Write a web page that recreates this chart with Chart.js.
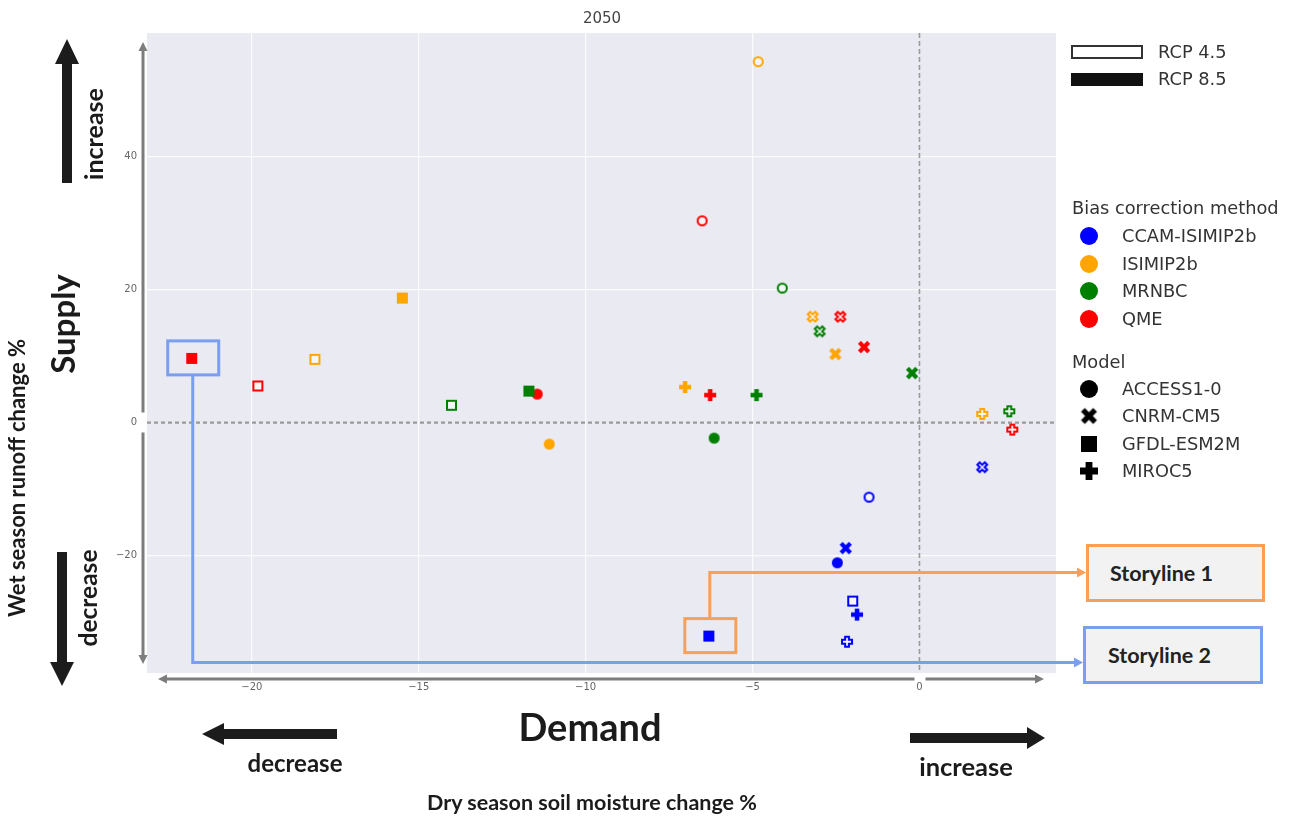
<!DOCTYPE html>
<html>
<head>
<meta charset="utf-8">
<script src="https://cdn.jsdelivr.net/npm/chart.js@4.4.1/dist/chart.umd.min.js"></script>
<style>
  html, body { margin: 0; padding: 0; background: #fff; }
  #wrap { position: relative; width: 1292px; height: 817px; overflow: hidden; }
  #c { position: absolute; left: 0; top: 0; }
  svg.arrows { position: absolute; left: 0; top: 0; pointer-events: none; }
  .t { position: absolute; white-space: nowrap; line-height: 1; }
  .big { font-family: Lato, 'Open Sans', sans-serif; font-weight: 700; color: #1b1b1b; }
  .ctr { transform: translate(-50%, -50%); }
  .rot { transform: translate(-50%, -50%) rotate(-90deg); }
  .title { font-family: 'DejaVu Sans', sans-serif; font-size: 15px; color: #444; }
  .lg { font-family: 'DejaVu Sans', sans-serif; font-size: 17.8px; color: #333; transform: translateY(-50%); }
  .swatch { position: absolute; box-sizing: border-box; }
  .mk { position: absolute; transform: translate(-50%, -50%); }
  .story { position: absolute; box-sizing: border-box; background: #f2f2f2; border: 3px solid;
           font-family: Lato, 'Open Sans', sans-serif; font-weight: 700; font-size: 21.5px; color: #222;
           display: flex; align-items: center; }
</style>
</head>
<body>
<div id="wrap">
  <canvas id="c" width="1292" height="817"></canvas>

  <svg class="arrows" width="1292" height="817">
    <g fill="#1c1c1c">
      <polygon points="67,39 79,64 72,64 72,183 62,183 62,64 55,64"/>
      <polygon points="57,552 67,552 67,662 74,662 62,686 50,662 57,662"/>
      <polygon points="202,734 224,723 224,729 337,729 337,739 224,739 224,745"/>
      <polygon points="910,733 1027,733 1027,727 1045,738 1027,749 1027,743 910,743"/>
    </g>
  </svg>

  <div class="t title ctr" style="left:602px; top:18px;">2050</div>

  <div class="t big rot" style="left:93px; top:134px; font-size:25px;">increase</div>
  <div class="t big rot" style="left:62px; top:324px; font-size:33px;">Supply</div>
  <div class="t big rot" style="left:17px; top:478px; font-size:22px;">Wet season runoff change %</div>
  <div class="t big rot" style="left:88px; top:598px; font-size:24.5px;">decrease</div>

  <div class="t big ctr" style="left:590px; top:726px; font-size:38px;">Demand</div>
  <div class="t big ctr" style="left:295px; top:763px; font-size:24px;">decrease</div>
  <div class="t big ctr" style="left:966px; top:767px; font-size:25.5px;">increase</div>
  <div class="t big ctr" style="left:592px; top:803px; font-size:21.5px;">Dry season soil moisture change %</div>

  <div id="legend"></div>

  <div class="story" style="left:1086px; top:544px; width:179px; height:58px; border-color:#f7a05a; padding-left:21px;">Storyline 1</div>
  <div class="story" style="left:1083px; top:626px; width:180px; height:58px; border-color:#7b9ff0; padding-left:22px;">Storyline 2</div>
</div>

<script>
// ---- data ----------------------------------------------------------------
const methods = ['CCAM-ISIMIP2b', 'ISIMIP2b', 'MRNBC', 'QME'];
const models = ['ACCESS1-0', 'CNRM-CM5', 'GFDL-ESM2M', 'MIROC5'];
const scenarios = ['RCP 4.5', 'RCP 8.5'];

// rows: bias correction method, columns: model
// dry season soil moisture change % (x) and wet season runoff change % (y)
const rcp45Dry = [
  [-1.51, 1.88, -2.00, -2.17],
  [-4.83, -3.20, -18.11, 1.88],
  [-4.11, -2.99, -14.02, 2.69],
  [-6.51, -2.37, -19.82, 2.78]
];
const rcp45Wet = [
  [-11.2, -6.7, -26.8, -32.9],
  [54.2, 15.9, 9.5, 1.3],
  [20.2, 13.7, 2.6, 1.7],
  [30.3, 15.9, 5.5, -1.05]
];
const rcp85Dry = [
  [-2.46, -2.21, -6.31, -1.87],
  [-11.09, -2.52, -15.49, -7.02],
  [-6.15, -0.22, -11.70, -4.88],
  [-11.45, -1.66, -21.80, -6.27]
];
const rcp85Wet = [
  [-21.05, -18.84, -32.06, -28.83],
  [-3.23, 10.29, 18.69, 5.33],
  [-2.33, 7.43, 4.73, 4.13],
  [4.28, 11.34, 9.64, 4.13]
];

const xTicks = [-20, -15, -10, -5, 0];
const yTicks = [-20, 0, 20, 40];

// highlighted runs: [scenario index, method index, model index]
const storylineRuns = [[1, 0, 2], [1, 3, 2]];

// ---- styling ---------------------------------------------------------------
const methodColors = ['#0000ff', '#ffa500', '#008000', '#ff0000'];
const modelShapes = ['circle', 'x', 'square', 'plus'];
const storylineStyles = [
  { color: '#f7a05a', fromTop: true,  lineY: 572.5, tipX: 1086 },
  { color: '#7b9ff0', fromTop: false, lineY: 662.5, tipX: 1083 }
];

function shapePath(g, shape, size) {
  const s = size / 2;
  g.beginPath();
  if (shape === 'circle') {
    g.arc(0, 0, s, 0, Math.PI * 2);
  } else if (shape === 'square') {
    g.rect(-s, -s, 2 * s, 2 * s);
  } else {
    const r = shape === 'x' ? s * 1.32 : s;
    const t = shape === 'x' ? s * 0.42 : s * 0.38;
    const pts = [[-t,-r],[t,-r],[t,-t],[r,-t],[r,t],[t,t],[t,r],[-t,r],[-t,t],[-r,t],[-r,-t],[-t,-t]];
    const a = shape === 'x' ? Math.PI / 4 : 0;
    pts.forEach(([px, py], i) => {
      const qx = px * Math.cos(a) - py * Math.sin(a);
      const qy = px * Math.sin(a) + py * Math.cos(a);
      if (i === 0) g.moveTo(qx, qy); else g.lineTo(qx, qy);
    });
  }
  g.closePath();
}

function markerCanvas(shape, color, filled, size) {
  const n = Math.ceil(size + 8);
  const cv = document.createElement('canvas');
  cv.width = n; cv.height = n;
  const g = cv.getContext('2d');
  g.translate(n / 2, n / 2);
  if (filled) {
    shapePath(g, shape, size);
    g.fillStyle = color;
    g.fill();
  } else {
    shapePath(g, shape, size - 2);
    g.fillStyle = 'rgba(255,255,255,0.55)';
    g.fill();
    g.strokeStyle = color;
    g.lineWidth = 2;
    g.stroke();
  }
  return cv;
}

const markerSize = { circle: 11, x: 10, square: 11, plus: 12 };

// ---- datasets ---------------------------------------------------------------
const series = [[rcp45Dry, rcp45Wet], [rcp85Dry, rcp85Wet]];
const datasets = [];
scenarios.forEach((sc, si) => {
  const [dry, wet] = series[si];
  methods.forEach((m, mi) => {
    datasets.push({
      label: m + ' ' + sc,
      data: models.map((_, k) => ({ x: dry[mi][k], y: wet[mi][k] })),
      pointStyle: modelShapes.map(sh => markerCanvas(sh, methodColors[mi], si === 1, markerSize[sh])),
      pointRadius: 6,
      showLine: false
    });
  });
});

const fmt = v => (v < 0 ? '\u2212' + Math.abs(v) : String(v));

// plot panel background and dashed zero lines
const panelPlugin = {
  id: 'panel',
  beforeDraw(chart) {
    const { ctx, chartArea: a } = chart;
    ctx.save();
    ctx.fillStyle = '#eaeaf2';
    ctx.fillRect(a.left, a.top, a.right - a.left, a.bottom - a.top);
    ctx.restore();
  },
  beforeDatasetsDraw(chart) {
    const { ctx, chartArea: a, scales: { x, y } } = chart;
    const x0 = x.getPixelForValue(0), y0 = y.getPixelForValue(0);
    ctx.save();
    ctx.strokeStyle = '#9a9a9a';
    ctx.lineWidth = 1.6;
    ctx.setLineDash([5, 3]);
    ctx.beginPath(); ctx.moveTo(x0, a.top); ctx.lineTo(x0, a.bottom); ctx.stroke();
    ctx.lineWidth = 2.2;
    ctx.setLineDash([4, 3]);
    ctx.beginPath(); ctx.moveTo(a.left, y0); ctx.lineTo(a.right, y0); ctx.stroke();
    ctx.restore();
  },
  afterDraw(chart) {
    // gray double-headed axis lines, broken at zero
    const { ctx, chartArea: a, scales: { x, y } } = chart;
    const x0 = x.getPixelForValue(0), y0 = y.getPixelForValue(0);
    const ax = a.left - 4, ay = a.bottom + 6;
    ctx.save();
    ctx.strokeStyle = '#7d7d7d';
    ctx.fillStyle = '#7d7d7d';
    ctx.lineWidth = 3;
    ctx.beginPath();
    ctx.moveTo(ax, a.top + 16); ctx.lineTo(ax, y0 - 10);
    ctx.moveTo(ax, y0 + 10); ctx.lineTo(ax, a.bottom - 16);
    ctx.moveTo(a.left + 18, ay); ctx.lineTo(x0 - 5, ay);
    ctx.moveTo(x0 + 6, ay); ctx.lineTo(a.right - 19, ay);
    ctx.stroke();
    const tri = (p) => { ctx.beginPath(); ctx.moveTo(p[0], p[1]); ctx.lineTo(p[2], p[3]); ctx.lineTo(p[4], p[5]); ctx.closePath(); ctx.fill(); };
    tri([ax, a.top + 9, ax - 4.5, a.top + 18, ax + 4.5, a.top + 18]);
    tri([ax, a.bottom - 9, ax - 4.5, a.bottom - 18, ax + 4.5, a.bottom - 18]);
    tri([a.left + 11, ay, a.left + 20, ay - 4.5, a.left + 20, ay + 4.5]);
    tri([a.right - 12, ay, a.right - 21, ay - 4.5, a.right - 21, ay + 4.5]);
    ctx.restore();
  }
};

// boxes round the highlighted runs, with connectors to the storyline labels
const storylinePlugin = {
  id: 'storylines',
  afterDatasetsDraw(chart) {
    const { ctx, scales: { x, y } } = chart;
    storylineRuns.forEach(([si, mi, k], i) => {
      const st = storylineStyles[i];
      const [dry, wet] = series[si];
      const px = x.getPixelForValue(dry[mi][k]);
      const py = y.getPixelForValue(wet[mi][k]);
      ctx.save();
      ctx.strokeStyle = st.color;
      ctx.fillStyle = st.color;
      ctx.lineWidth = 3;
      ctx.strokeRect(px - 24, py - 17.5, 51, 34);
      const lx = px + 1;
      ctx.beginPath();
      ctx.moveTo(lx, st.fromTop ? py - 17.5 : py + 16.5);
      ctx.lineTo(lx, st.lineY);
      ctx.lineTo(st.tipX - 7, st.lineY);
      ctx.stroke();
      ctx.beginPath();
      ctx.moveTo(st.tipX, st.lineY);
      ctx.lineTo(st.tipX - 9, st.lineY - 5);
      ctx.lineTo(st.tipX - 9, st.lineY + 5);
      ctx.closePath();
      ctx.fill();
      ctx.restore();
    });
  }
};

const tickFont = { family: 'DejaVu Sans', size: 10 };
const gridColor = ctx => (ctx.tick && ctx.tick.value === 0 ? 'rgba(0,0,0,0)' : '#fbfbfd');

new Chart(document.getElementById('c'), {
  type: 'scatter',
  data: { datasets },
  options: {
    responsive: false,
    animation: false,
    events: [],
    layout: { padding: { left: 107, right: 236, top: 33, bottom: 114 } },
    plugins: { legend: { display: false }, tooltip: { enabled: false } },
    scales: {
      x: {
        type: 'linear', min: -23.14, max: 4.09,
        afterBuildTicks: s => { s.ticks = xTicks.map(v => ({ value: v })); },
        afterFit: s => { s.height = 30; },
        grid: { color: gridColor, lineWidth: 1.2, drawTicks: false },
        border: { display: false },
        ticks: { padding: 8, font: tickFont, color: '#666', maxRotation: 0, callback: fmt }
      },
      y: {
        type: 'linear', min: -37.6, max: 58.5,
        afterBuildTicks: s => { s.ticks = yTicks.map(v => ({ value: v })); },
        afterFit: s => { s.width = 40; },
        grid: { color: gridColor, lineWidth: 1.2, drawTicks: false },
        border: { display: false },
        ticks: { padding: 10, font: tickFont, color: '#666', callback: fmt }
      }
    }
  },
  plugins: [panelPlugin, storylinePlugin]
});

// ---- legend ---------------------------------------------------------------
(function buildLegend() {
  const host = document.getElementById('legend');
  const add = (html) => host.insertAdjacentHTML('beforeend', html);
  // scenario swatches
  add('<div class="swatch" style="left:1071px; top:45px; width:72px; height:14px; border:2px solid #333; background:#fff;"></div>');
  add('<div class="t lg" style="left:1158px; top:52px;">' + scenarios[0] + '</div>');
  add('<div class="swatch" style="left:1071px; top:73px; width:72px; height:13px; background:#111;"></div>');
  add('<div class="t lg" style="left:1158px; top:79px;">' + scenarios[1] + '</div>');

  add('<div class="t lg" style="left:1072px; top:208px;">Bias correction method</div>');
  methods.forEach((m, i) => {
    const yy = 236 + i * 27.5;
    const cv = markerCanvas('circle', methodColors[i], true, 18);
    cv.className = 'mk';
    cv.style.left = '1089px'; cv.style.top = yy + 'px';
    host.appendChild(cv);
    add('<div class="t lg" style="left:1122px; top:' + yy + 'px;">' + m + '</div>');
  });

  add('<div class="t lg" style="left:1072px; top:362px;">Model</div>');
  const legendSize = { circle: 18, x: 13, square: 16, plus: 18 };
  models.forEach((m, i) => {
    const yy = 389 + i * 27.3;
    const cv = markerCanvas(modelShapes[i], '#000', true, legendSize[modelShapes[i]]);
    cv.className = 'mk';
    cv.style.left = '1089px'; cv.style.top = yy + 'px';
    host.appendChild(cv);
    add('<div class="t lg" style="left:1122px; top:' + yy + 'px;">' + m + '</div>');
  });
})();
</script>
</body>
</html>
